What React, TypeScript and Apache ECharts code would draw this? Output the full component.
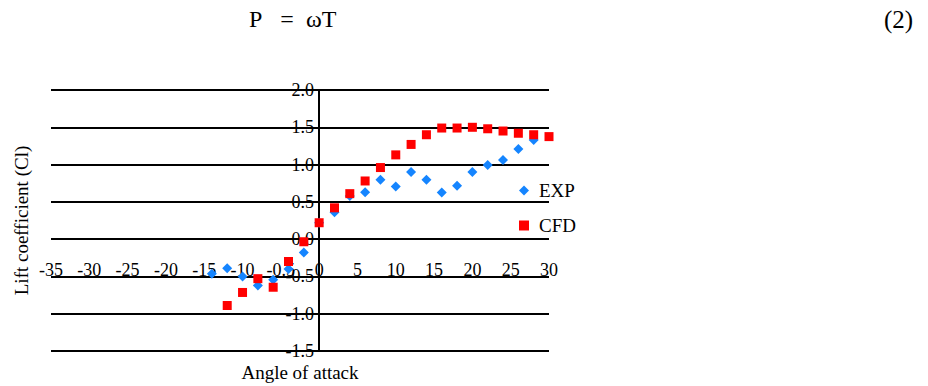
import React, { useEffect, useRef } from "react";
import * as echarts from "echarts";

const expAngles = [-14, -12, -10, -8, -6, -4, -2, 0, 2, 4, 6, 8, 10, 12, 14, 16, 18, 20, 22, 24, 26, 28];
const expValues = [-0.465, -0.39, -0.5, -0.62, -0.545, -0.4, -0.18, 0.22, 0.36, 0.58, 0.63, 0.795, 0.705, 0.9, 0.795, 0.625, 0.715, 0.9, 0.995, 1.06, 1.21, 1.33];

const cfdAngles = [-12, -10, -8, -6, -4, -2, 0, 2, 4, 6, 8, 10, 12, 14, 16, 18, 20, 22, 24, 26, 28, 30];
const cfdValues = [-0.89, -0.715, -0.53, -0.645, -0.3, -0.035, 0.22, 0.42, 0.61, 0.78, 0.96, 1.13, 1.27, 1.4, 1.49, 1.49, 1.5, 1.48, 1.45, 1.42, 1.4, 1.375];

const xTickValues = [-35, -30, -25, -20, -15, -10, -5, 0, 5, 10, 15, 20, 25, 30];
const xTickLabels = ["-35", "-30", "-25", "-20", "-15", "-10", "-0.5", "0", "5", "10", "15", "20", "25", "30"];

const FONT = "serif";

export default function App() {
  const ref = useRef<HTMLDivElement>(null);
  useEffect(() => {
    if (!ref.current) return;
    const chart = echarts.init(ref.current, null, { renderer: "svg" });
    chart.setOption({
      animation: false,
      backgroundColor: "#ffffff",
      textStyle: { fontFamily: FONT, color: "#000" },
      grid: { left: 51, right: 379, top: 90, bottom: 35, containLabel: false, outerBoundsMode: "none" },
      graphic: [
        {
          type: "text",
          left: 249,
          top: 7,
          style: { text: "P\u00a0\u00a0\u00a0=\u00a0\u00a0\u03c9T", fontFamily: FONT, fontSize: 24, fill: "#000" },
        },
        {
          type: "text",
          left: 884,
          top: 7,
          style: { text: "(2)", fontFamily: FONT, fontSize: 25, fill: "#000" },
        },
      ],
      legend: {
        orient: "vertical",
        left: 514,
        top: 176,
        itemWidth: 10,
        itemHeight: 10,
        itemGap: 16,
        textStyle: { fontFamily: FONT, fontSize: 19, color: "#000", padding: [0, 0, 0, 5] },
        data: ["EXP", "CFD"],
      },
      xAxis: {
        type: "value",
        min: -35,
        max: 30,
        interval: 5,
        position: "bottom",
        axisLine: { show: false, onZero: false },
        axisTick: { show: false },
        splitLine: { show: false },
        axisLabel: {
          margin: -90,
          fontFamily: FONT,
          fontSize: 18,
          color: "#000",
          formatter: (v: number) => {
            const i = xTickValues.indexOf(v);
            return i >= 0 ? xTickLabels[i] : String(v);
          },
        },
        name: "Angle of attack",
        nameLocation: "middle",
        nameGap: 12,
        nameTextStyle: { fontFamily: FONT, fontSize: 19, color: "#000" },
      },
      yAxis: {
        type: "value",
        min: -1.5,
        max: 2,
        interval: 0.5,
        position: "left",
        offset: -268,
        axisLine: { show: true, onZero: false, lineStyle: { color: "#000", width: 2 } },
        axisTick: { show: false },
        splitLine: { show: true, lineStyle: { color: "#000", width: 2 } },
        axisLabel: {
          margin: 5,
          fontFamily: FONT,
          fontSize: 18,
          color: "#000",
          formatter: (v: number) => v.toFixed(1),
        },
        name: "Lift coefficient (Cl)",
        nameLocation: "middle",
        nameGap: 288,
        nameTextStyle: { fontFamily: FONT, fontSize: 19, color: "#000" },
      },
      series: [
        {
          name: "EXP",
          type: "scatter",
          symbol: "diamond",
          symbolSize: 10,
          itemStyle: { color: "#1585ff", opacity: 1 },
          data: expAngles.map((a, i) => [a, expValues[i]]),
          z: 2,
        },
        {
          name: "CFD",
          type: "scatter",
          symbol: "rect",
          symbolSize: 9,
          itemStyle: { color: "#ff0000", opacity: 1 },
          data: cfdAngles.map((a, i) => [a, cfdValues[i]]),
          z: 3,
        },
      ],
    });
    return () => chart.dispose();
  }, []);
  return <div ref={ref} style={{ position: "fixed", left: 0, top: 0, width: 928, height: 386 }} />;
}
